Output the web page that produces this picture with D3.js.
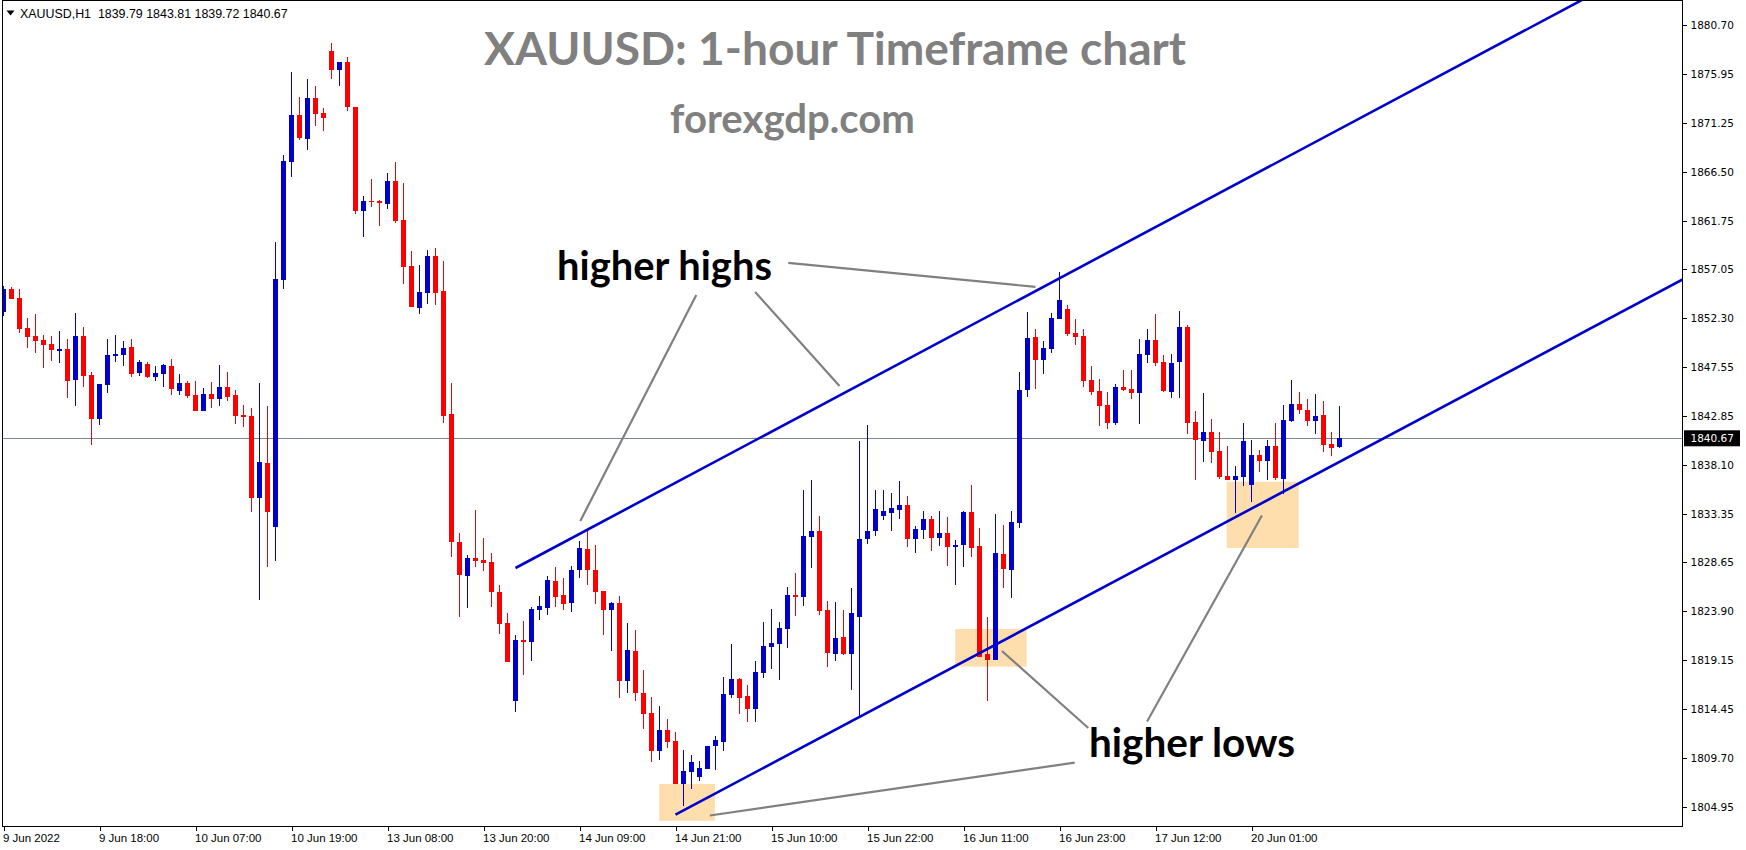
<!DOCTYPE html>
<html><head><meta charset="utf-8">
<script src="https://cdn.jsdelivr.net/npm/d3@7"></script>
<style>html,body{margin:0;padding:0;background:#fff;overflow:hidden}svg{display:block}</style>
</head><body>
<svg id="c" width="1746" height="850"></svg>
<script>
// ---------------- data ----------------
const headerText = "XAUUSD,H1  1839.79 1843.81 1839.72 1840.67";
const titleText = "XAUUSD: 1-hour Timeframe chart";
const siteText = "forexgdp.com";
const highsText = "higher highs";
const lowsText = "higher lows";

const priceTicks = ["1880.70","1875.95","1871.25","1866.50","1861.75","1857.05","1852.30","1847.55","1842.85","1838.10","1833.35","1828.65","1823.90","1819.15","1814.45","1809.70","1804.95"];
const timeTickBars = [0,12,24,36,48,60,72,84,96,108,120,132,144,156];
const timeTickLabels = ["9 Jun 2022","9 Jun 18:00","10 Jun 07:00","10 Jun 19:00","13 Jun 08:00","13 Jun 20:00","14 Jun 09:00","14 Jun 21:00","15 Jun 10:00","15 Jun 22:00","16 Jun 11:00","16 Jun 23:00","17 Jun 12:00","20 Jun 01:00"];

const opens = [1852.94,1855.14,1854.27,1851.36,1850.58,1850.20,1849.81,1849.16,1849.32,1846.35,
1850.58,1846.80,1842.57,1845.83,1848.64,1848.77,1849.52,1847.03,1847.87,1846.64,
1846.93,1847.67,1845.30,1846.03,1844.87,1843.27,1844.96,1844.43,1845.63,1844.87,
1842.93,1842.83,1834.92,1838.29,1832.08,1856.04,1867.49,1871.99,1869.69,1873.66,
1872.19,1878.20,1876.40,1877.15,1872.77,1862.72,1863.65,1863.65,1863.39,1865.62,
1861.87,1857.35,1853.34,1854.79,1858.35,1854.93,1843.03,1830.61,1827.35,1829.05,
1828.87,1828.68,1825.76,1822.77,1815.24,1821.12,1820.93,1824.06,1824.26,1826.84,
1825.49,1824.74,1827.94,1829.94,1827.91,1825.87,1824.06,1824.71,1817.18,1820.06,
1816.02,1814.01,1810.40,1812.43,1811.34,1807.17,1808.36,1807.88,1808.65,1810.85,
1811.24,1815.80,1817.35,1815.70,1814.47,1817.96,1820.48,1820.77,1822.22,1825.49,
1825.32,1831.13,1831.69,1824.03,1819.80,1821.42,1819.80,1823.38,1830.91,1831.72,
1833.14,1833.43,1833.75,1834.21,1830.94,1831.81,1832.85,1831.04,1831.49,1830.17,
1830.36,1833.53,1830.23,1819.77,1819.19,1829.46,1827.94,1832.49,1845.35,1850.49,
1848.26,1849.32,1852.23,1853.20,1850.87,1850.58,1846.32,1845.25,1843.90,1842.18,
1845.64,1845.45,1845.09,1848.77,1850.20,1848.06,1845.19,1848.09,1851.45,1842.25,
1840.44,1841.28,1839.44,1837.02,1836.66,1836.95,1836.17,1839.05,1838.50,1839.92,
1836.76,1842.35,1843.99,1843.41,1842.35,1842.93,1840.12,1839.79];
const highs = [1855.43,1855.33,1855.14,1852.33,1852.71,1850.68,1850.61,1851.07,1850.29,1852.81,
1851.45,1847.09,1845.93,1850.29,1850.68,1850.10,1850.29,1848.26,1848.06,1847.68,
1847.87,1848.36,1846.90,1846.23,1846.23,1845.53,1846.14,1847.77,1847.10,1845.33,
1843.90,1843.60,1846.03,1843.83,1859.68,1868.12,1876.16,1873.73,1875.50,1874.80,
1872.70,1878.96,1877.15,1877.64,1872.77,1864.14,1865.81,1863.76,1866.36,1867.43,
1865.40,1858.83,1857.44,1858.91,1859.09,1857.83,1846.04,1831.54,1829.35,1833.72,
1831.02,1829.54,1826.45,1823.74,1821.64,1822.97,1824.35,1825.39,1827.33,1828.20,
1827.13,1828.30,1830.72,1831.78,1830.33,1825.87,1824.81,1825.39,1822.77,1822.09,
1818.25,1815.60,1814.73,1813.50,1812.21,1810.47,1809.98,1809.40,1810.85,1811.82,
1817.57,1820.74,1817.45,1816.77,1819.09,1822.90,1824.13,1822.90,1826.26,1827.63,
1835.66,1836.63,1833.17,1824.90,1824.81,1824.06,1826.16,1840.41,1841.96,1835.66,
1835.66,1835.37,1836.53,1835.08,1832.17,1833.63,1833.14,1833.62,1833.04,1830.82,
1833.62,1836.14,1832.01,1823.35,1833.31,1832.27,1833.62,1847.09,1852.91,1851.26,
1850.10,1852.81,1856.78,1853.59,1852.23,1851.26,1847.68,1846.42,1845.16,1845.93,
1847.29,1847.29,1850.29,1851.26,1852.71,1848.74,1848.84,1853.01,1851.60,1843.32,
1845.06,1842.54,1841.28,1839.92,1837.99,1842.15,1840.51,1839.54,1840.51,1842.15,
1843.90,1846.32,1845.16,1844.48,1844.96,1844.28,1841.28,1843.81];
const lows = [1852.55,1854.17,1850.90,1849.42,1848.96,1847.51,1848.19,1848.00,1844.58,1843.80,
1845.64,1840.05,1841.99,1845.09,1848.09,1847.68,1846.61,1846.71,1846.54,1846.25,
1845.64,1844.89,1844.90,1844.53,1843.36,1843.27,1843.64,1843.83,1844.33,1842.09,
1841.79,1833.55,1825.00,1828.18,1828.82,1855.18,1866.02,1869.53,1868.65,1870.96,
1870.49,1875.53,1874.83,1872.37,1862.40,1860.17,1863.13,1861.24,1862.91,1861.54,
1855.64,1853.42,1852.71,1853.71,1853.61,1842.18,1829.17,1823.38,1824.27,1828.16,
1827.83,1824.34,1821.71,1819.02,1814.18,1817.76,1819.09,1823.06,1823.55,1824.35,
1824.06,1823.87,1827.16,1826.45,1824.64,1821.64,1820.09,1815.53,1816.02,1815.24,
1812.53,1809.33,1809.47,1810.69,1807.17,1805.04,1806.66,1807.43,1808.65,1808.53,
1810.37,1815.53,1813.95,1813.18,1813.18,1817.47,1818.34,1817.28,1820.38,1823.48,
1824.45,1828.13,1823.58,1818.51,1819.12,1819.70,1816.31,1813.76,1830.46,1831.23,
1832.78,1831.69,1832.85,1830.14,1829.58,1830.88,1829.78,1830.26,1828.32,1826.48,
1828.23,1829.20,1819.51,1815.24,1819.19,1826.19,1825.22,1831.98,1844.67,1845.45,
1846.90,1848.94,1852.23,1850.61,1849.71,1845.64,1844.87,1841.89,1841.60,1841.99,
1845.28,1844.51,1842.08,1847.97,1847.68,1845.19,1844.60,1844.60,1841.12,1836.66,
1838.40,1838.31,1836.76,1836.66,1833.43,1836.08,1834.53,1837.43,1836.66,1836.66,
1835.27,1842.25,1843.02,1841.86,1841.09,1839.34,1838.95,1839.72];
const closes = [1855.14,1854.17,1851.29,1850.51,1850.13,1849.74,1849.26,1849.32,1846.25,1850.58,
1846.71,1842.57,1845.93,1848.74,1848.84,1849.42,1846.93,1848.06,1846.64,1847.00,
1847.77,1845.40,1846.03,1844.80,1843.36,1844.96,1844.43,1845.63,1844.70,1842.86,
1842.76,1834.92,1838.39,1833.55,1856.11,1867.55,1871.99,1869.79,1873.66,1872.12,
1871.66,1876.40,1877.15,1872.77,1862.72,1863.65,1863.58,1863.51,1865.62,1861.77,
1857.31,1853.42,1854.83,1858.35,1854.79,1842.85,1830.65,1827.46,1829.05,1828.79,
1828.61,1825.79,1822.71,1819.02,1821.12,1820.96,1824.13,1824.42,1826.97,1825.32,
1824.64,1827.91,1830.04,1827.94,1825.81,1824.06,1824.71,1817.18,1820.16,1816.02,
1813.98,1810.40,1812.43,1811.27,1807.17,1808.46,1809.30,1808.72,1810.85,1811.44,
1815.89,1817.35,1815.53,1814.47,1818.02,1820.54,1820.83,1822.29,1825.49,1825.32,
1831.23,1831.69,1823.96,1819.89,1821.32,1819.77,1823.74,1830.91,1831.69,1833.82,
1833.63,1833.92,1834.21,1830.94,1831.88,1832.85,1831.04,1831.49,1830.17,1830.33,
1833.53,1830.07,1819.51,1819.19,1829.56,1828.03,1832.56,1845.35,1850.39,1848.26,
1849.42,1852.33,1854.07,1850.78,1850.52,1846.25,1845.19,1843.83,1842.18,1845.64,
1845.38,1845.09,1848.84,1850.20,1848.00,1845.28,1847.97,1851.45,1842.18,1840.51,
1841.28,1839.37,1836.95,1836.66,1837.02,1840.41,1839.05,1838.50,1839.92,1836.82,
1842.44,1843.99,1843.41,1842.35,1842.83,1840.02,1839.73,1840.67];

const lastPrice = 1840.67;
// trend channel anchors: [bar index, price]
const upperChannel = [[64, 1828.1], [126, 1853.7]];
const lowerChannel = [[84, 1804.2], [126, 1821.5]];
// highlight boxes: [bar from, bar to, price top, price bottom]
const highlightBoxes = [[81.96, 88.92, 1807.17, 1803.6], [118.96, 127.9, 1822.19, 1818.54], [152.9, 161.9, 1836.46, 1830.04]];
// pointer lines: [bar1, price1, bar2, price2]
const pointerLines = [
  [86.6, 1854.56, 72.1, 1832.66],
  [93.96, 1854.85, 104.5, 1845.74],
  [98.1, 1857.67, 129.0, 1855.34],
  [133.9, 1809.24, 88.3, 1804.12],
  [135.6, 1812.60, 124.8, 1820.06],
  [142.95, 1813.23, 157.3, 1833.19]
];

// ---------------- layout ----------------
const W = 1746, H = 850;
const plot = {left: 2.5, right: 1682.5, top: 0.5, bottom: 826.5};
const BULL = "#0000CD", BEAR = "#FF0000";

const svg = d3.select("#c");
const x = d3.scaleLinear().domain([0, 167]).range([3.5, 3.5 + 8 * 167]);
const y = d3.scaleLinear().domain([1804.95, 1880.70]).range([806.9, 25.2]);

svg.append("rect").attr("width", W).attr("height", H).attr("fill", "#fff");

svg.append("defs").append("clipPath").attr("id", "plotclip")
  .append("rect").attr("x", plot.left).attr("y", plot.top)
  .attr("width", plot.right - plot.left).attr("height", plot.bottom - plot.top);

const g = svg.append("g").attr("clip-path", "url(#plotclip)");

// highlight boxes (behind)
g.selectAll("rect.box").data(highlightBoxes).join("rect").attr("class", "box")
  .attr("x", d => x(d[0])).attr("width", d => x(d[1]) - x(d[0]))
  .attr("y", d => y(d[2])).attr("height", d => y(d[3]) - y(d[2]))
  .attr("fill", "#FFDEAD");

// last price line
g.append("line").attr("x1", plot.left).attr("x2", plot.right)
  .attr("y1", Math.round(y(lastPrice)) + 0.5).attr("y2", Math.round(y(lastPrice)) + 0.5)
  .attr("stroke", "#778899").attr("stroke-width", 1);

// candles
const idx = d3.range(opens.length);
const cg = g.append("g").attr("shape-rendering", "crispEdges");
cg.selectAll("line.wick").data(idx).join("line").attr("class", "wick")
  .attr("x1", i => Math.floor(x(i)) + 0.5).attr("x2", i => Math.floor(x(i)) + 0.5)
  .attr("y1", i => y(highs[i])).attr("y2", i => y(lows[i]))
  .attr("stroke", i => closes[i] >= opens[i] ? BULL : BEAR).attr("stroke-width", 1);
cg.selectAll("rect.body").data(idx).join("rect").attr("class", "body")
  .attr("x", i => Math.floor(x(i)) - 2).attr("width", 5)
  .attr("y", i => y(Math.max(opens[i], closes[i])))
  .attr("height", i => Math.max(1.2, y(Math.min(opens[i], closes[i])) - y(Math.max(opens[i], closes[i]))))
  .attr("fill", i => closes[i] >= opens[i] ? BULL : BEAR);

// channel lines (rays to the right)
function ray(pts) {
  const [b1, p1] = pts[0], [b2, p2] = pts[1];
  const slope = (p2 - p1) / (b2 - b1);
  const bEnd = x.invert(plot.right + 5);
  return [[x(b1), y(p1)], [x(bEnd), y(p1 + slope * (bEnd - b1))]];
}
[upperChannel, lowerChannel].forEach(c => {
  const r = ray(c);
  g.append("line").attr("x1", r[0][0]).attr("y1", r[0][1]).attr("x2", r[1][0]).attr("y2", r[1][1])
    .attr("stroke", BULL).attr("stroke-width", 2.6);
});

// pointer lines
g.selectAll("line.ptr").data(pointerLines).join("line").attr("class", "ptr")
  .attr("x1", d => x(d[0])).attr("y1", d => y(d[1]))
  .attr("x2", d => x(d[2])).attr("y2", d => y(d[3]))
  .attr("stroke", "#808080").attr("stroke-width", 2.2);

// plot border
svg.append("rect").attr("x", plot.left).attr("y", plot.top)
  .attr("width", plot.right - plot.left).attr("height", plot.bottom - plot.top)
  .attr("fill", "none").attr("stroke", "#000").attr("stroke-width", 1)
  .attr("shape-rendering", "crispEdges");

// right price axis
const ya = svg.append("g").attr("transform", `translate(${plot.right},0)`)
  .call(d3.axisRight(y).tickValues(priceTicks.map(Number)).tickSize(4).tickPadding(4)
    .tickFormat((d, i) => priceTicks[i]));
ya.select(".domain").remove();
ya.selectAll("line").attr("stroke", "#000").attr("shape-rendering", "crispEdges");
ya.selectAll("text").attr("font-family", "DejaVu Sans, sans-serif").attr("font-size", 10.5)
  .attr("fill", "#000").attr("x", 8);

// last price label
const lp = svg.append("g");
lp.append("rect").attr("x", plot.right + 1.5).attr("y", y(lastPrice) - 8).attr("width", 56).attr("height", 16).attr("fill", "#000");
lp.append("text").attr("x", plot.right + 8).attr("y", y(lastPrice)).attr("dy", "0.36em")
  .attr("font-family", "DejaVu Sans, sans-serif").attr("font-size", 10.5).attr("fill", "#fff")
  .text(lastPrice.toFixed(2));

// bottom time axis
const xa = svg.append("g").attr("transform", `translate(0,${plot.bottom})`)
  .call(d3.axisBottom(x).tickValues(timeTickBars).tickSize(4).tickPadding(3)
    .tickFormat((d, i) => timeTickLabels[i]));
xa.select(".domain").remove();
xa.selectAll("line").attr("stroke", "#000").attr("shape-rendering", "crispEdges");
xa.selectAll("text").attr("font-family", "Liberation Sans, Arial, sans-serif").attr("font-size", 11.5)
  .attr("fill", "#000").attr("text-anchor", "start").attr("dx", -1);

// header
svg.append("path").attr("d", "M6.5,10.5 L14.5,10.5 L10.5,15.5 Z").attr("fill", "#000");
const hdr = svg.append("text").attr("x", 20).attr("y", 17.5).attr("font-family", "Liberation Sans, Arial, sans-serif")
  .attr("font-size", 12).attr("fill", "#000").style("white-space", "pre").text(headerText);

function fit(t, w) {
  const cur = t.node().getComputedTextLength();
  const fs = parseFloat(t.attr("font-size"));
  t.attr("font-size", fs * w / cur);
}
fit(hdr, 268);

// annotation texts
function label(txt, cx, base, w, fill, fs) {
  const t = svg.append("text").attr("x", cx).attr("y", base).attr("text-anchor", "middle")
    .attr("font-family", "Lato, 'Open Sans', sans-serif").attr("font-weight", 700)
    .attr("font-size", fs).attr("fill", fill).text(txt);
  fit(t, w);
  return t;
}
label(titleText, 835, 64.6, 702, "#808080", 44);
label(siteText, 792.5, 133, 245, "#808080", 38);
label(highsText, 664.5, 280, 215, "#000", 36);
label(lowsText, 1192, 757, 206, "#000", 36);
</script>
</body></html>
